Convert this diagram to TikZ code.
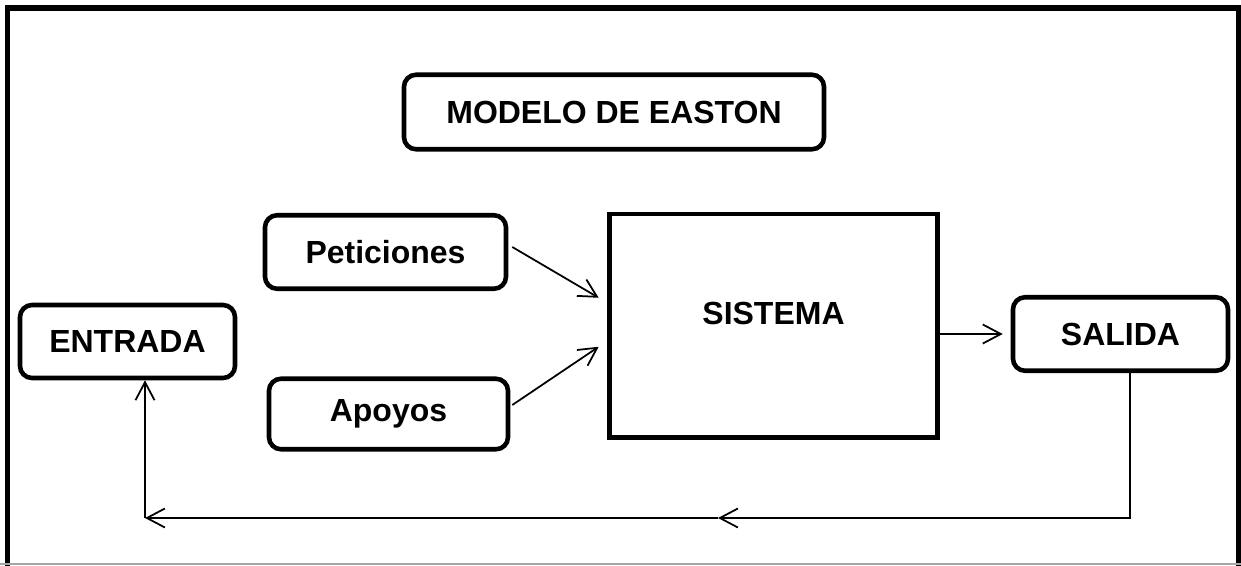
\documentclass[tikz,border=0pt]{standalone}
\usepackage{fontspec}
\setmainfont{Liberation Sans}
\usetikzlibrary{arrows.meta}

\begin{document}
\begin{tikzpicture}[font=\fontsize{9.1}{10.9}\selectfont\bfseries,
		box/.style={draw, line width=1.3pt, rounded corners=1.2mm, align=center, inner sep=0pt},
		arrowline/.style={line width=0.5pt, -{Straight Barb[length=1.8mm, width=1.9mm]}}]
		
		\def\W{12.41} % Width of the picture
		
		\def\H{5.65} % Height of the picture
		
		\useasboundingbox (0,0) rectangle (\W,\H);
		\clip (0,0) rectangle (\W,\H);
		
		% Draw the outer frame
		
		\draw[line width=1.7pt] (0.075,-0.3) -- (0.075,5.57) -- (12.385,5.57) -- (12.385,-0.3);
		\draw[black!35, line width=0.4pt] (0,0.01) -- (\W,0.01);
		
		% Title
		
		\node[box, minimum width=4.2cm, minimum height=0.745cm] (titulo) at (6.14,4.53) {MODELO DE EASTON};
		
		% Boxes around the system
		
		\node[box, minimum width=2.41cm, minimum height=0.735cm] (pet) at (3.855,3.13) {Peticiones};
		
		\node[box, minimum width=2.39cm, minimum height=0.705cm] (apo) at (3.885,1.51) {Apoyos};
		
		\node[box, minimum width=2.15cm, minimum height=0.73cm] (ent) at (1.275,2.235) {ENTRADA};
		
		\node[box, minimum width=2.15cm, minimum height=0.735cm] (sal) at (11.205,2.31) {SALIDA};
		
		\node[draw, line width=1.3pt, minimum width=3.28cm, minimum height=2.235cm] (sis) at (7.735,2.3925) {};
		\node at ([yshift=1.27mm]sis.center) {SISTEMA};
		
		% Draw the arrows
		
		\draw[arrowline] ([xshift=0.4mm,yshift=0.5mm]pet.east) -- ([xshift=-0.85mm,yshift=2.8mm]sis.west);
		
		\draw[arrowline] ([xshift=0.2mm,yshift=0.9mm]apo.east) -- ([xshift=-0.85mm,yshift=-2.1mm]sis.west);
		
		\draw[arrowline] (sis.east |- sal.west) -- ([xshift=-0.8mm]sal.west);
		
		% Feedback loop
		
		\coordinate (mid) at (7.18,0.47);
		\coordinate (esq) at (1.45,0.47);
		
		\draw[arrowline] ([xshift=0.95mm]sal.south) |- (mid);
		\draw[arrowline] (mid) -- (esq);
		\draw[arrowline] (esq) -- (esq |- ent.south);
		
	\end{tikzpicture}
\end{document}
